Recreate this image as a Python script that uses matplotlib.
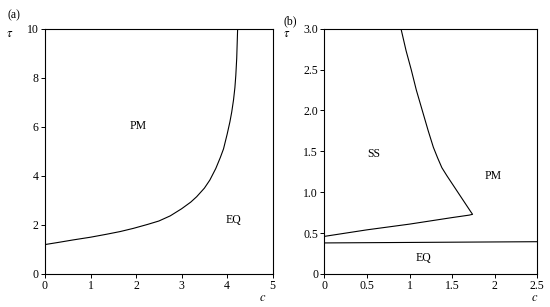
import matplotlib
matplotlib.use("Agg")
import matplotlib.pyplot as plt

plt.rcParams['font.family'] = ['Liberation Serif', 'DejaVu Serif']
plt.rcParams['mathtext.fontset'] = 'stix'

# Panel (a) boundary PM / EQ
a_c = [0.0, 0.3, 0.62, 1.0, 1.35, 1.65, 1.94, 2.25, 2.5, 2.75, 3.0, 3.2, 3.33, 3.5, 3.62,
       3.75, 3.85, 3.92, 4.0, 4.06, 4.1, 4.14, 4.17, 4.19, 4.21, 4.22, 4.23]
a_tau = [1.2, 1.29, 1.39, 1.5, 1.62, 1.73, 1.86, 2.02, 2.16, 2.37, 2.66, 2.93, 3.15, 3.5, 3.83,
         4.3, 4.75, 5.1, 5.7, 6.2, 6.6, 7.1, 7.6, 8.1, 8.8, 9.4, 10.0]

# Panel (b) SS boundary (upper branch -> tip -> lower branch)
b_c = [0.9, 0.96, 1.02, 1.08, 1.15, 1.22, 1.28, 1.33, 1.38, 1.44, 1.58, 1.72, 1.74, 1.70, 1.5, 1.0, 0.5, 0.0]
b_tau = [3.0, 2.73, 2.5, 2.25, 2.0, 1.75, 1.55, 1.42, 1.3, 1.2, 0.98, 0.76, 0.73, 0.72, 0.69, 0.61, 0.54, 0.46]
# Panel (b) EQ boundary
eq_c = [0.0, 2.5]
eq_tau = [0.38, 0.395]

fig = plt.figure(figsize=(5.5, 3.07), dpi=100)
ax1 = fig.add_axes([45/550, 1-274/307, (272.7-45)/550, (274-28.7)/307])
ax2 = fig.add_axes([324.3/550, 1-274/307, (537.3-324.3)/550, (274-28.7)/307])

lw = 0.8
ax1.plot(a_c, a_tau, color='black', lw=lw)
ax1.set_xlim(0, 5)
ax1.set_ylim(0, 10)
ax1.set_xticks([0, 1, 2, 3, 4, 5])
ax1.set_yticks([0, 2, 4, 6, 8, 10])
ax1.text(2.05, 6.03, 'PM', ha='center', va='center', fontsize=8.5)
ax1.text(4.14, 2.2, 'EQ', ha='center', va='center', fontsize=8.5)

ax2.plot(b_c, b_tau, color='black', lw=lw)
ax2.plot(eq_c, eq_tau, color='black', lw=lw)
ax2.set_xlim(0, 2.5)
ax2.set_ylim(0, 3.0)
ax2.set_xticks([0, 0.5, 1, 1.5, 2, 2.5])
ax2.set_xticklabels(['0', '0.5', '1', '1.5', '2', '2.5'])
ax2.set_yticks([0, 0.5, 1.0, 1.5, 2.0, 2.5, 3.0])
ax2.set_yticklabels(['0', '0.5', '1.0', '1.5', '2.0', '2.5', '3.0'])
ax2.text(0.58, 1.47, 'SS', ha='center', va='center', fontsize=8.5)
ax2.text(1.98, 1.2, 'PM', ha='center', va='center', fontsize=8.5)
ax2.text(1.16, 0.19, 'EQ', ha='center', va='center', fontsize=8.5)

for ax in (ax1, ax2):
    ax.tick_params(direction='out', length=3, width=0.7, labelsize=8.5, pad=1.5,
                   top=False, right=False)
    for s in ax.spines.values():
        s.set_linewidth(0.8)

fig.text(7/550, 1-15/307, '(a)', fontsize=8.5, ha='left', va='center')
fig.text(9.5/550, 1-34/307, r'$\tau$', fontsize=9, ha='center', va='center')
fig.text(263/550, 1-298/307, r'$c$', fontsize=9, ha='center', va='center')
fig.text(283/550, 1-21/307, '(b)', fontsize=8.5, ha='left', va='center')
fig.text(287/550, 1-34/307, r'$\tau$', fontsize=9, ha='center', va='center')
fig.text(535/550, 1-298/307, r'$c$', fontsize=9, ha='center', va='center')

fig.savefig('out.png', dpi=100)
